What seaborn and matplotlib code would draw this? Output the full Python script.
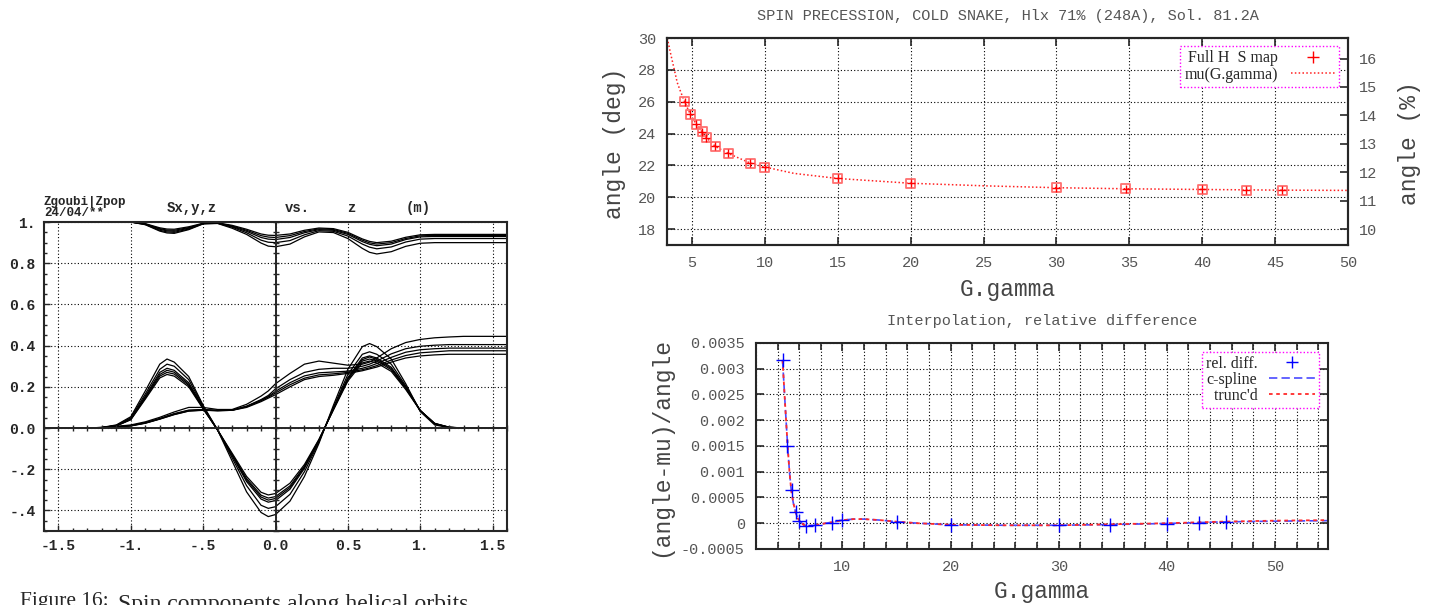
import numpy as np
import pandas as pd
import matplotlib
matplotlib.use("Agg")
import matplotlib.pyplot as plt
from matplotlib.ticker import MultipleLocator, FuncFormatter
from matplotlib.lines import Line2D
import seaborn as sns

# ---------------- left panel : spin components along z (m) ----------------
z = [-1.6, -1.5, -1.4, -1.3, -1.2, -1.1, -1.0, -0.9, -0.8, -0.75, -0.7, -0.6,
     -0.5, -0.4, -0.3, -0.2, -0.1, -0.05, 0.0, 0.1, 0.2, 0.3, 0.4, 0.5,
     0.6, 0.65, 0.7, 0.8, 0.9, 1.0, 1.1, 1.2, 1.3, 1.4, 1.5, 1.6]

sz_curves = [
    [1, 1, 1, 1, 1, 1, 1.0, 0.992, 0.972, 0.966, 0.965, 0.977, 0.994, 0.996, 0.984, 0.965, 0.942, 0.936,
     0.935, 0.942, 0.96, 0.971, 0.968, 0.95, 0.918, 0.906, 0.9, 0.907, 0.926, 0.938, 0.94, 0.94, 0.94, 0.94, 0.94, 0.94],
    [1, 1, 1, 1, 1, 1, 1.0, 0.991, 0.968, 0.961, 0.96, 0.973, 0.993, 0.995, 0.981, 0.96, 0.934, 0.927,
     0.925, 0.934, 0.954, 0.967, 0.964, 0.945, 0.912, 0.899, 0.893, 0.9, 0.92, 0.933, 0.935, 0.935, 0.935, 0.935, 0.935, 0.935],
    [1, 1, 1, 1, 1, 1, 1.0, 0.99, 0.965, 0.957, 0.955, 0.97, 0.993, 0.995, 0.978, 0.955, 0.925, 0.917,
     0.915, 0.925, 0.948, 0.963, 0.96, 0.94, 0.905, 0.892, 0.885, 0.893, 0.915, 0.928, 0.93, 0.93, 0.93, 0.93, 0.93, 0.93],
    [1, 1, 1, 1, 1, 1, 1.0, 0.988, 0.96, 0.952, 0.95, 0.966, 0.992, 0.994, 0.975, 0.948, 0.912, 0.902,
     0.9, 0.91, 0.938, 0.958, 0.955, 0.932, 0.893, 0.878, 0.87, 0.879, 0.903, 0.917, 0.92, 0.92, 0.92, 0.92, 0.92, 0.92],
    [1, 1, 1, 1, 1, 1, 1.0, 0.987, 0.956, 0.947, 0.945, 0.963, 0.991, 0.993, 0.97, 0.94, 0.898, 0.883,
     0.88, 0.893, 0.928, 0.952, 0.949, 0.92, 0.872, 0.853, 0.845, 0.856, 0.882, 0.897, 0.9, 0.9, 0.9, 0.9, 0.9, 0.9],
]

sx_curves = [
    [0, 0, 0, 0, 0.003, 0.015, 0.055, 0.18, 0.31, 0.335, 0.32, 0.25, 0.11, -0.01, -0.16, -0.31, -0.41, -0.43,
     -0.42, -0.355, -0.235, -0.075, 0.11, 0.285, 0.395, 0.41, 0.395, 0.335, 0.215, 0.08, 0.015, 0.002, 0, 0, 0, 0],
    [0, 0, 0, 0, 0.002, 0.013, 0.05, 0.165, 0.285, 0.31, 0.3, 0.235, 0.105, -0.01, -0.145, -0.28, -0.375, -0.39,
     -0.382, -0.322, -0.212, -0.068, 0.1, 0.26, 0.358, 0.37, 0.358, 0.31, 0.205, 0.085, 0.02, 0.003, 0, 0, 0, 0],
    [0, 0, 0, 0, 0.002, 0.012, 0.045, 0.155, 0.27, 0.29, 0.28, 0.22, 0.1, -0.01, -0.135, -0.26, -0.345, -0.36,
     -0.352, -0.297, -0.196, -0.062, 0.095, 0.245, 0.34, 0.35, 0.34, 0.295, 0.2, 0.085, 0.02, 0.003, 0, 0, 0, 0],
    [0, 0, 0, 0, 0.002, 0.011, 0.043, 0.15, 0.26, 0.28, 0.271, 0.213, 0.097, -0.01, -0.131, -0.252, -0.335, -0.35,
     -0.342, -0.289, -0.19, -0.06, 0.092, 0.24, 0.332, 0.345, 0.333, 0.289, 0.196, 0.085, 0.021, 0.003, 0, 0, 0, 0],
    [0, 0, 0, 0, 0.002, 0.011, 0.042, 0.145, 0.252, 0.27, 0.262, 0.207, 0.095, -0.01, -0.128, -0.245, -0.326, -0.34,
     -0.333, -0.281, -0.185, -0.058, 0.09, 0.235, 0.325, 0.335, 0.326, 0.283, 0.192, 0.085, 0.022, 0.004, 0, 0, 0, 0],
    [0, 0, 0, 0, 0.001, 0.01, 0.04, 0.14, 0.243, 0.26, 0.252, 0.2, 0.092, -0.01, -0.122, -0.235, -0.312, -0.325,
     -0.318, -0.268, -0.177, -0.055, 0.087, 0.228, 0.316, 0.325, 0.316, 0.275, 0.187, 0.085, 0.023, 0.004, 0, 0, 0, 0],
]

sy_curves = [
    [0, 0, 0, 0, 0.003, 0.008, 0.015, 0.03, 0.052, 0.065, 0.078, 0.1, 0.1, 0.09, 0.09, 0.115, 0.155, 0.18,
     0.215, 0.265, 0.31, 0.325, 0.315, 0.305, 0.31, 0.32, 0.34, 0.385, 0.415, 0.43, 0.438, 0.442, 0.445, 0.445, 0.445, 0.445],
    [0, 0, 0, 0, 0.002, 0.006, 0.012, 0.026, 0.046, 0.058, 0.07, 0.087, 0.09, 0.086, 0.087, 0.106, 0.138, 0.158,
     0.19, 0.235, 0.27, 0.285, 0.29, 0.29, 0.3, 0.31, 0.325, 0.36, 0.385, 0.397, 0.402, 0.405, 0.405, 0.405, 0.405, 0.405],
    [0, 0, 0, 0, 0.002, 0.006, 0.012, 0.025, 0.045, 0.057, 0.068, 0.085, 0.088, 0.085, 0.087, 0.105, 0.135, 0.153,
     0.178, 0.22, 0.253, 0.268, 0.272, 0.276, 0.29, 0.3, 0.313, 0.343, 0.368, 0.38, 0.385, 0.388, 0.388, 0.388, 0.388, 0.388],
    [0, 0, 0, 0, 0.002, 0.005, 0.011, 0.024, 0.044, 0.055, 0.066, 0.083, 0.087, 0.084, 0.086, 0.103, 0.132, 0.15,
     0.17, 0.21, 0.242, 0.258, 0.263, 0.27, 0.283, 0.292, 0.303, 0.33, 0.352, 0.365, 0.37, 0.375, 0.375, 0.375, 0.375, 0.375],
    [0, 0, 0, 0, 0.001, 0.005, 0.01, 0.023, 0.043, 0.054, 0.065, 0.082, 0.086, 0.084, 0.086, 0.1, 0.128, 0.145,
     0.162, 0.2, 0.235, 0.25, 0.256, 0.265, 0.278, 0.287, 0.296, 0.32, 0.34, 0.35, 0.355, 0.358, 0.358, 0.358, 0.358, 0.358],
]

# ---------------- right panels : spin precession vs G.gamma ----------------
gg = [4.5, 4.9, 5.3, 5.7, 6.0, 6.6, 7.5, 9.0, 10.0, 15.0, 20.0, 30.0, 34.75, 40.0, 43.0, 45.5]
angle = [26.0, 25.2, 24.6, 24.1, 23.75, 23.2, 22.75, 22.15, 21.9, 21.18, 20.88, 20.6, 20.53, 20.5, 20.45, 20.45]

gg_mu = [3.32, 3.5, 3.65, 3.8, 4.0, 4.2, 4.5, 4.9, 5.3, 5.7, 6.0, 6.6, 7.5, 9.0, 10.0, 12.0,
         15.0, 20.0, 25.0, 30.0, 35.0, 40.0, 45.0, 50.0]
mu = [30.0, 29.2, 28.6, 28.0, 27.2, 26.7, 26.0, 25.2, 24.6, 24.1, 23.75, 23.2, 22.75, 22.15, 21.9, 21.5,
      21.18, 20.88, 20.72, 20.6, 20.53, 20.49, 20.45, 20.43]

rel_diff = [0.00317, 0.0015, 0.00065, 0.00022, 0.00005, -0.00005, -0.00004, 0.00001, 0.00006, 0.000026,
            -0.000026, -0.00004, -0.000026, -0.000006, 0.0, 0.000026]

gg_fit = [4.46, 4.7, 4.93, 5.1, 5.26, 5.45, 5.66, 5.85, 6.06, 6.4, 6.68, 7.0, 7.5, 8.2, 9.0, 10.0,
          11.0, 12.0, 13.5, 15.0, 17.0, 20.0, 25.0, 30.0, 35.0, 40.0, 45.0, 50.0, 54.9]
cspline = [0.00317, 0.0023, 0.0015, 0.001, 0.00065, 0.0004, 0.00022, 0.0001, 0.00004, -0.00003, -0.00005,
           -0.00005, -0.00004, -0.00001, 0.00002, 0.00006, 0.00008, 0.00008, 0.00006, 0.00003, 0.0,
           -0.00003, -0.00004, -0.00004, -0.000025, -0.000005, 0.000025, 0.00004, 0.00005]
truncd = [0.00317, 0.0023, 0.0015, 0.001, 0.00065, 0.0004, 0.00022, 0.0001, 0.00004, -0.00003, -0.00005,
          -0.00005, -0.00004, -0.00001, 0.00002, 0.00006, 0.00008, 0.00008, 0.00006, 0.00003, 0.0,
          -0.00003, -0.00004, -0.00004, -0.00002, 0.0, 0.00003, 0.00005, 0.00006]

# long form table for the spin bundles
rows = []
for fam, curves in (("Sz", sz_curves), ("Sx", sx_curves), ("Sy", sy_curves)):
    for i, c in enumerate(curves):
        for zz, s in zip(z, c):
            rows.append((fam + str(i), zz, s))
spin = pd.DataFrame(rows, columns=["curve", "z", "S"])

sns.set_style("ticks")
plt.rcParams["font.family"] = ["Liberation Mono", "DejaVu Sans"]
plt.rcParams["axes.linewidth"] = 1.5

GRID = dict(color="black", lw=0.8, ls=(0, (1, 2)))
GREY = "#555555"

fig = plt.figure(figsize=(14.29, 6.05), dpi=100)

# ======== left: Zgoubi plot ========
ax = fig.add_axes([0.0308, 0.1223, 0.3240, 0.5107])
sns.lineplot(data=spin, x="z", y="S", units="curve", estimator=None, color="black",
             lw=0.9, ax=ax, legend=False)
ax.set_xlim(-1.6, 1.6)
ax.set_ylim(-0.5, 1.0)
ax.set_xticks([-1.5, -1, -0.5, 0, 0.5, 1, 1.5], ["-1.5", "-1.", "-.5", "0.0", "0.5", "1.", "1.5"])
ax.set_yticks([1.0, 0.8, 0.6, 0.4, 0.2, 0.0, -0.2, -0.4], ["1.", "0.8", "0.6", "0.4", "0.2", "0.0", "-.2", "-.4"])
ax.xaxis.set_minor_locator(MultipleLocator(0.1))
ax.yaxis.set_minor_locator(MultipleLocator(0.05))
ax.tick_params(which="both", direction="in", top=False, right=False)
ax.tick_params(which="major", length=4, width=1, labelsize=10.5, pad=6)
ax.tick_params(which="minor", length=2.5, width=1)
for t in ax.get_xticklabels() + ax.get_yticklabels():
    t.set_fontweight("bold")
ax.grid(True, which="major", **GRID)
ax.set_xlabel("")
ax.set_ylabel("")
for s in ax.spines.values():
    s.set_linewidth(1.5)

# axes through the origin
ax0 = fig.add_axes(ax.get_position(), facecolor="none")
ax0.set_xlim(-1.6, 1.6)
ax0.set_ylim(-0.5, 1.0)
ax0.spines["left"].set_position(("data", 0))
ax0.spines["bottom"].set_position(("data", 0))
ax0.spines["top"].set_visible(False)
ax0.spines["right"].set_visible(False)
ax0.xaxis.set_major_locator(MultipleLocator(0.1))
ax0.yaxis.set_major_locator(MultipleLocator(0.05))
ax0.tick_params(direction="inout", length=5, width=1, labelbottom=False, labelleft=False)
for s in ("left", "bottom"):
    ax0.spines[s].set_linewidth(1.4)

bold = dict(fontweight="bold", fontsize=9, transform=fig.transFigure)
fig.text(44 / 1429, 1 - 202 / 605, "Zgoubi|Zpop", va="center", **bold)
fig.text(44 / 1429, 1 - 213 / 605, "24/04/**", va="center", **bold)
for x, s in ((192, "Sx,y,z"), (297, "vs."), (351, "z"), (418, "(m)")):
    fig.text(x / 1429, 1 - 208 / 605, s, ha="center", va="center", fontsize=10,
             fontweight="bold", transform=fig.transFigure)

cap = dict(family=["Liberation Serif"], va="top", transform=fig.transFigure)
fig.text(20 / 1429, 1 - 592 / 605, "Figure 16:", fontsize=15.5, **cap)
fig.text(118 / 1429, 1 - 594 / 605, "Spin components along helical orbits", fontsize=17, **cap)

# ======== right top: precession angle ========
ax1 = fig.add_axes([0.4668, 0.5950, 0.4766, 0.3421])
sns.lineplot(x=gg_mu, y=mu, ax=ax1, color="#ff2020", lw=1.1, ls=(0, (1, 1.5)))
sns.scatterplot(x=gg, y=angle, ax=ax1, marker="s", s=42, facecolor="none",
                edgecolor="#ff7070", linewidth=1.3, zorder=3)
sns.scatterplot(x=gg, y=angle, ax=ax1, marker="+", s=40, color="red", linewidth=1.0, zorder=4)
ax1.set_xlim(3.3, 50)
ax1.set_ylim(17, 30)
ax1.xaxis.set_major_locator(MultipleLocator(5))
ax1.yaxis.set_major_locator(MultipleLocator(2))
ax1.tick_params(which="both", direction="in", length=6, width=1.2, top=True, right=False,
                labelsize=11, labelcolor=GREY, pad=8)
ax1.grid(True, **GRID)
ax1.set_xlabel("G.gamma", fontsize=16.5, color="#444444")
ax1.xaxis.set_label_coords(0.5, -0.16)
ax1.set_ylabel("angle (deg)", fontsize=16.5, color="#444444")
ax1.yaxis.set_label_coords(-0.06, 0.49)
ax1.text(0.5, 1.106, "SPIN PRECESSION, COLD SNAKE, Hlx 71% (248A), Sol. 81.2A",
         transform=ax1.transAxes, ha="center", va="center", fontsize=11, color=GREY)

ax1r = ax1.twinx()
ax1r.set_ylim(9.44, 16.72)
ax1r.yaxis.set_major_locator(MultipleLocator(1))
ax1r.tick_params(direction="in", length=6, width=1.2, labelsize=11, labelcolor=GREY, pad=8)
ax1r.set_ylabel("angle (%)", fontsize=16.5, color="#444444")
ax1r.yaxis.set_label_coords(1.073, 0.49)
ax1r.grid(False)

h1 = [Line2D([], [], color="red", marker="+", ls="none", markersize=8),
      Line2D([], [], color="#ff2020", lw=1.1, ls=(0, (1, 1.5)))]
leg1 = ax1.legend(h1, [" Full H  S map", "mu(G.gamma)"], loc="upper right",
                  bbox_to_anchor=(0.987, 0.961), borderaxespad=0, markerfirst=False,
                  prop={"family": "Liberation Serif", "size": 11.5}, frameon=True,
                  fancybox=False, framealpha=1, edgecolor="#ff00ff", handlelength=2.8,
                  handletextpad=0.8, borderpad=0.25, labelspacing=0.05)
leg1.get_frame().set_linestyle((0, (1, 1.5)))
leg1.get_frame().set_linewidth(1.0)
leg1.set_zorder(10)

# ======== right bottom: relative difference ========
ax2 = fig.add_axes([0.5290, 0.0926, 0.4003, 0.3405])
sns.lineplot(x=gg_fit, y=cspline, ax=ax2, color="#4a4aff", lw=1.2, ls=(0, (5, 2.5)))
sns.lineplot(x=gg_fit, y=truncd, ax=ax2, color="#ff2a2a", lw=1.3, ls=(0, (2, 2)))
sns.scatterplot(x=gg, y=rel_diff, ax=ax2, marker="+", s=90, color="#0000ff", linewidth=1.0, zorder=4)
ax2.set_xlim(2, 54.9)
ax2.set_ylim(-0.0005, 0.0035)
ax2.xaxis.set_major_locator(MultipleLocator(10))
ax2.xaxis.set_minor_locator(MultipleLocator(2))
ax2.yaxis.set_major_locator(MultipleLocator(0.0005))
ax2.yaxis.set_major_formatter(FuncFormatter(lambda v, p: "%g" % (round(v, 6) + 0.0)))
ax2.tick_params(which="both", direction="in", top=True, right=True, width=1.2)
ax2.tick_params(which="major", length=6, labelsize=11, labelcolor=GREY, pad=8)
ax2.tick_params(which="minor", length=5)
ax2.grid(True, which="both", **GRID)
ax2.set_xlabel("G.gamma", fontsize=16.5, color="#444444")
ax2.xaxis.set_label_coords(0.5, -0.15)
ax2.set_ylabel("(angle-mu)/angle", fontsize=16.5, color="#444444")
ax2.yaxis.set_label_coords(-0.147, 0.495)
ax2.text(0.5, 1.108, "Interpolation, relative difference", transform=ax2.transAxes,
         ha="center", va="center", fontsize=11, color=GREY)

h2 = [Line2D([], [], color="#0000ff", marker="+", ls="none", markersize=9),
      Line2D([], [], color="#4a4aff", lw=1.2, ls=(0, (5, 2.5))),
      Line2D([], [], color="#ff2a2a", lw=1.3, ls=(0, (2, 2)))]
leg2 = ax2.legend(h2, ["rel. diff.", "c-spline", " trunc'd"], loc="upper right",
                  bbox_to_anchor=(0.984, 0.956), borderaxespad=0, markerfirst=False,
                  prop={"family": "Liberation Serif", "size": 11.5}, frameon=True,
                  fancybox=False, framealpha=1, edgecolor="#ff00ff", handlelength=2.9,
                  handletextpad=0.7, borderpad=0.25, labelspacing=0.0)
leg2.get_frame().set_linestyle((0, (1, 1.5)))
leg2.get_frame().set_linewidth(1.0)

fig.savefig("out.png", dpi=100)
